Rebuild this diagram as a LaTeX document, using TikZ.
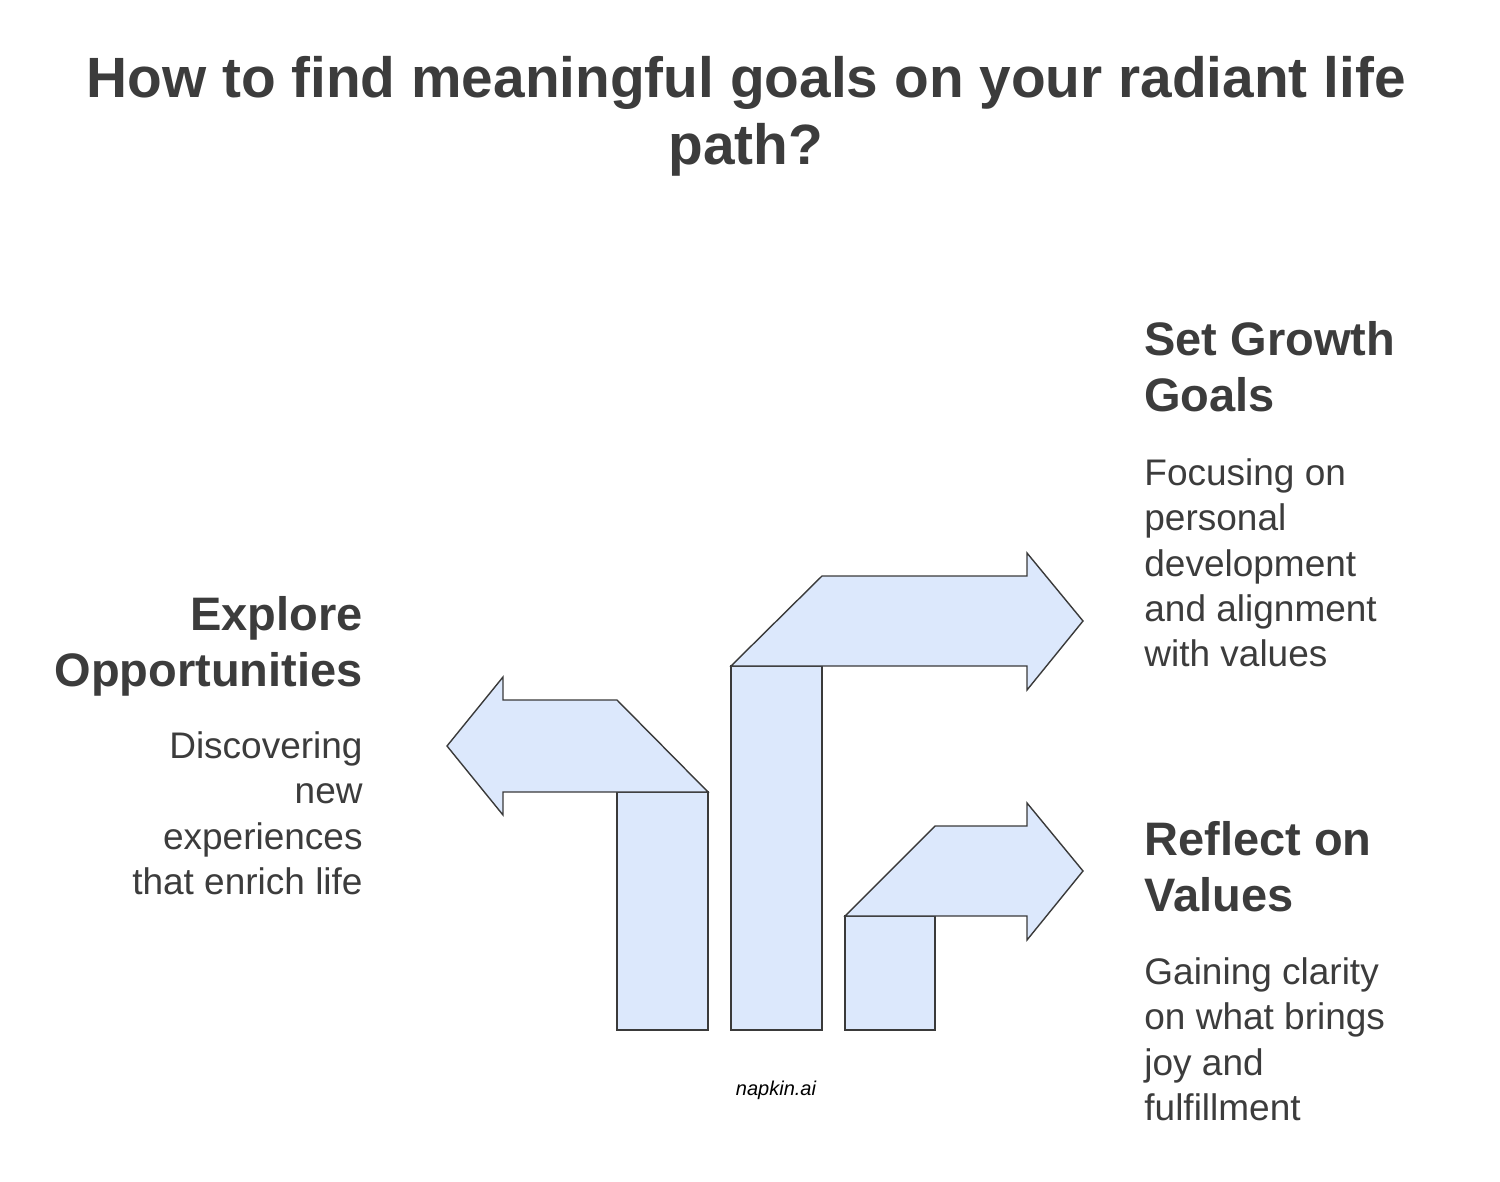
\documentclass[tikz,border=0pt]{standalone}
\usepackage{fontspec}
\setmainfont{Liberation Sans}
\begin{document}
\begin{tikzpicture}[x=0.5pt,y=-0.5pt,
  shp/.style={fill=fillblue,draw=edge,line width=0.7pt,line join=miter},
  head/.style={font=\fontsize{23.5}{28}\selectfont\bfseries,text=txt,inner sep=0pt},
  body/.style={font=\fontsize{18.5}{22.7}\selectfont,text=txt,inner sep=0pt},
  ]
\definecolor{fillblue}{HTML}{DCE8FC}
\definecolor{edge}{HTML}{3A3A3A}
\definecolor{txt}{HTML}{3C3C3C}
\useasboundingbox (0,0) rectangle (1500,1182);
\node[font=\fontsize{28.4}{33.5}\selectfont\bfseries,text=txt,align=center,inner sep=0pt,anchor=north] (title) at (746,56) {How to find meaningful goals on your radiant life\\path?};
% arrows
\draw[shp] (617,792) rectangle (708,1030);
\draw[shp] (708,792) -- (617,700) -- (503,700) -- (503,677) -- (447,746) -- (503,815) -- (503,792) -- cycle;
\draw[shp] (731,666) rectangle (822,1030);
\draw[shp] (731,666) -- (822,576) -- (1027,576) -- (1027,553) -- (1083,621) -- (1027,690) -- (1027,666) -- cycle;
\draw[shp] (845,916) rectangle (935,1030);
\draw[shp] (845,916) -- (935,826) -- (1027,826) -- (1027,803) -- (1083,871) -- (1027,940) -- (1027,916) -- cycle;
% texts
\node[head,align=right,anchor=north east] (h1) at (363,596) {Explore\\Opportunities};
\node[body,align=right,anchor=north east] (b1) at (363,731) {Discovering\\new\\experiences\\that enrich life};
\node[head,align=left,anchor=north west] (h2) at (1144,321) {Set Growth\\Goals};
\node[body,align=left,anchor=north west] (b2) at (1144,458) {Focusing on\\personal\\development\\and alignment\\with values};
\node[head,align=left,anchor=north west] (h3) at (1144,821) {Reflect on\\Values};
\node[body,align=left,anchor=north west] (b3) at (1144,957) {Gaining clarity\\on what brings\\joy and\\fulfillment};
\node[font=\fontsize{10}{12}\selectfont\itshape,text=black,inner sep=0pt] (logo) at (776,1090) {napkin.ai};
\end{tikzpicture}
\end{document}
